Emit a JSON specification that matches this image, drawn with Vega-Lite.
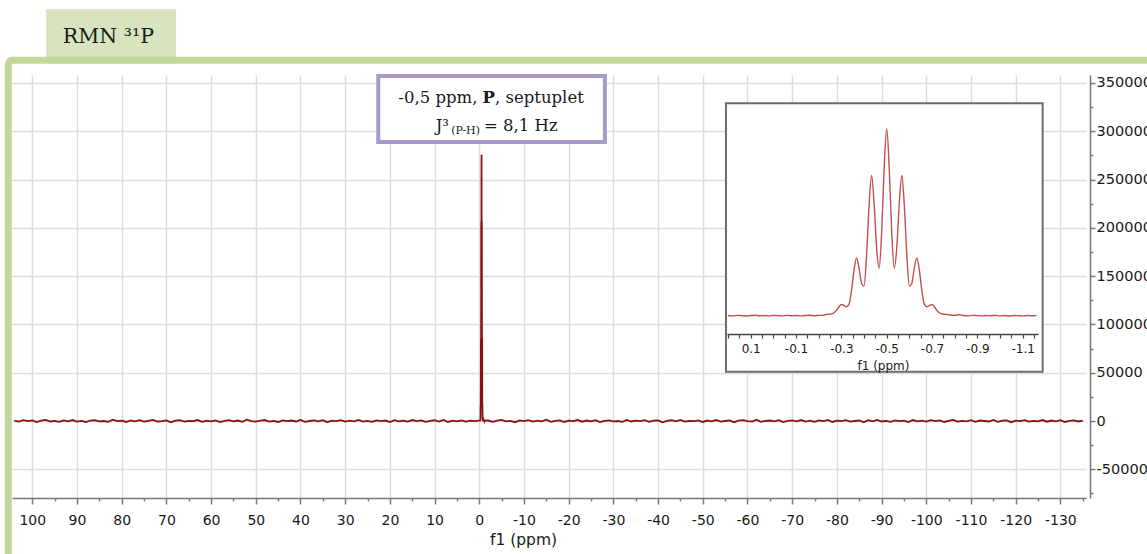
{
  "$schema": "https://vega.github.io/schema/vega-lite/v6.json",
  "width": 1074,
  "height": 423,
  "autosize": {"type": "none"},
  "padding": {"left": 12, "top": 75, "right": 61, "bottom": 56},
  "background": "white",
  "config": {"view": {"stroke": null}},
  "datasets": {
    "one": [{}],
    "spec": [
      {"ppm":104,"int":300},{"ppm":103,"int":-700},{"ppm":102,"int":900},{"ppm":101,"int":-200},{"ppm":100,"int":600},{"ppm":99,"int":-1100},{"ppm":98,"int":400},{"ppm":97,"int":1200},{"ppm":96,"int":-500},{"ppm":95,"int":100},{"ppm":94,"int":-900},{"ppm":93,"int":700},{"ppm":92,"int":-300},{"ppm":91,"int":1000},{"ppm":90,"int":-600},{"ppm":89,"int":200},{"ppm":88,"int":-1200},{"ppm":87,"int":500},{"ppm":86,"int":800},{"ppm":85,"int":-400},{"ppm":84,"int":0},{"ppm":83,"int":-800},{"ppm":82,"int":1300},{"ppm":81,"int":-100},{"ppm":80,"int":400},{"ppm":79,"int":-1000},{"ppm":78,"int":600},{"ppm":77,"int":-300},{"ppm":76,"int":900},{"ppm":75,"int":-700},{"ppm":74,"int":200},{"ppm":73,"int":1100},{"ppm":72,"int":-500},{"ppm":71,"int":-100},{"ppm":70,"int":700},{"ppm":69,"int":-1300},{"ppm":68,"int":300},{"ppm":67,"int":800},{"ppm":66,"int":-600},{"ppm":65,"int":100},{"ppm":64,"int":-200},{"ppm":63,"int":1000},{"ppm":62,"int":-900},{"ppm":61,"int":400},{"ppm":60,"int":-400},{"ppm":59,"int":600},{"ppm":58,"int":-1100},{"ppm":57,"int":200},{"ppm":56,"int":900},{"ppm":55,"int":-300},{"ppm":54,"int":500},{"ppm":53,"int":-800},{"ppm":52,"int":1400},{"ppm":51,"int":-200},{"ppm":50,"int":-600},{"ppm":49,"int":300},{"ppm":48,"int":1000},{"ppm":47,"int":-700},{"ppm":46,"int":100},{"ppm":45,"int":-1000},{"ppm":44,"int":700},{"ppm":43,"int":-200},{"ppm":42,"int":500},{"ppm":41,"int":-500},{"ppm":40,"int":1200},{"ppm":39,"int":-900},{"ppm":38,"int":0},{"ppm":37,"int":600},{"ppm":36,"int":-400},{"ppm":35,"int":900},{"ppm":34,"int":-1200},{"ppm":33,"int":300},{"ppm":32,"int":-100},{"ppm":31,"int":800},{"ppm":30,"int":-700},{"ppm":29,"int":400},{"ppm":28,"int":-300},{"ppm":27,"int":1100},{"ppm":26,"int":-600},{"ppm":25,"int":200},{"ppm":24,"int":-900},{"ppm":23,"int":700},{"ppm":22,"int":-100},{"ppm":21,"int":500},{"ppm":20,"int":-1100},{"ppm":19,"int":900},{"ppm":18,"int":-400},{"ppm":17,"int":300},{"ppm":16,"int":-700},{"ppm":15,"int":1000},{"ppm":14,"int":-200},{"ppm":13,"int":600},{"ppm":12,"int":-800},{"ppm":11,"int":100},{"ppm":10,"int":800},{"ppm":9,"int":-500},{"ppm":8,"int":1200},{"ppm":7,"int":-1000},{"ppm":6,"int":300},{"ppm":5,"int":-300},{"ppm":4,"int":700},{"ppm":3,"int":-600},{"ppm":2,"int":400},{"ppm":1,"int":-200},
      {"ppm":0.2,"int":300},{"ppm":0.18,"int":-200},{"ppm":0.16,"int":500},{"ppm":0.14,"int":100},{"ppm":0.12,"int":-400},{"ppm":0.1,"int":200},{"ppm":0.08,"int":600},{"ppm":0.06,"int":-100},{"ppm":0.04,"int":300},{"ppm":0.02,"int":-300},{"ppm":0,"int":400},{"ppm":-0.02,"int":100},{"ppm":-0.04,"int":-200},{"ppm":-0.06,"int":500},{"ppm":-0.08,"int":0},{"ppm":-0.1,"int":300},{"ppm":-0.12,"int":-300},{"ppm":-0.14,"int":200},{"ppm":-0.16,"int":600},{"ppm":-0.18,"int":-100},{"ppm":-0.2,"int":400},{"ppm":-0.22,"int":900},
      {"ppm":-0.2333,"int":1700},{"ppm":-0.2444,"int":2100},{"ppm":-0.2556,"int":2700},{"ppm":-0.2667,"int":4000},{"ppm":-0.2778,"int":7500},{"ppm":-0.2889,"int":12900},{"ppm":-0.3,"int":16500},{"ppm":-0.3111,"int":15100},{"ppm":-0.3222,"int":13200},{"ppm":-0.3333,"int":16300},{"ppm":-0.3444,"int":36000},{"ppm":-0.3556,"int":66200},{"ppm":-0.3667,"int":85300},{"ppm":-0.3778,"int":70900},{"ppm":-0.3889,"int":48000},{"ppm":-0.4,"int":43600},{"ppm":-0.4111,"int":88600},{"ppm":-0.4222,"int":162100},{"ppm":-0.4333,"int":206700},{"ppm":-0.4444,"int":166200},{"ppm":-0.4556,"int":99900},{"ppm":-0.4667,"int":70000},{"ppm":-0.4778,"int":123100},{"ppm":-0.4889,"int":218200},{"ppm":-0.5,"int":275700},{"ppm":-0.5111,"int":218200},{"ppm":-0.5222,"int":123100},{"ppm":-0.5333,"int":70000},{"ppm":-0.5444,"int":99900},{"ppm":-0.5556,"int":166200},{"ppm":-0.5667,"int":206700},{"ppm":-0.5778,"int":162100},{"ppm":-0.5889,"int":88600},{"ppm":-0.6,"int":43600},{"ppm":-0.6111,"int":48000},{"ppm":-0.6222,"int":70900},{"ppm":-0.6333,"int":85300},{"ppm":-0.6444,"int":66200},{"ppm":-0.6556,"int":36000},{"ppm":-0.6667,"int":16300},{"ppm":-0.6778,"int":13200},{"ppm":-0.6889,"int":15100},{"ppm":-0.7,"int":16500},{"ppm":-0.7111,"int":12900},{"ppm":-0.7222,"int":7500},{"ppm":-0.7333,"int":4000},{"ppm":-0.7444,"int":2700},{"ppm":-0.7556,"int":2100},{"ppm":-0.7667,"int":1700},
      {"ppm":-0.78,"int":1100},{"ppm":-0.8,"int":500},{"ppm":-0.82,"int":1500},{"ppm":-0.84,"int":300},{"ppm":-0.86,"int":-200},{"ppm":-0.88,"int":400},{"ppm":-0.9,"int":100},{"ppm":-0.92,"int":-300},{"ppm":-0.94,"int":300},{"ppm":-0.96,"int":0},{"ppm":-0.98,"int":500},{"ppm":-1,"int":-200},{"ppm":-1.02,"int":200},{"ppm":-1.04,"int":-400},{"ppm":-1.06,"int":300},{"ppm":-1.08,"int":100},{"ppm":-1.1,"int":-300},{"ppm":-1.12,"int":200},{"ppm":-1.14,"int":-100},{"ppm":-1.16,"int":300},
      {"ppm":-2,"int":500},{"ppm":-3,"int":-900},{"ppm":-4,"int":300},{"ppm":-5,"int":1100},{"ppm":-6,"int":-400},{"ppm":-7,"int":200},{"ppm":-8,"int":-1200},{"ppm":-9,"int":700},{"ppm":-10,"int":-100},{"ppm":-11,"int":900},{"ppm":-12,"int":-600},{"ppm":-13,"int":400},{"ppm":-14,"int":-300},{"ppm":-15,"int":1300},{"ppm":-16,"int":-800},{"ppm":-17,"int":100},{"ppm":-18,"int":600},{"ppm":-19,"int":-1000},{"ppm":-20,"int":300},{"ppm":-21,"int":-200},{"ppm":-22,"int":1000},{"ppm":-23,"int":-700},{"ppm":-24,"int":500},{"ppm":-25,"int":-400},{"ppm":-26,"int":800},{"ppm":-27,"int":-1100},{"ppm":-28,"int":200},{"ppm":-29,"int":700},{"ppm":-30,"int":-300},{"ppm":-31,"int":0},{"ppm":-32,"int":-900},{"ppm":-33,"int":1200},{"ppm":-34,"int":-500},{"ppm":-35,"int":400},{"ppm":-36,"int":-200},{"ppm":-37,"int":900},{"ppm":-38,"int":-800},{"ppm":-39,"int":300},{"ppm":-40,"int":600},{"ppm":-41,"int":-1300},{"ppm":-42,"int":100},{"ppm":-43,"int":800},{"ppm":-44,"int":-400},{"ppm":-45,"int":1100},{"ppm":-46,"int":-600},{"ppm":-47,"int":200},{"ppm":-48,"int":-100},{"ppm":-49,"int":700},{"ppm":-50,"int":-1000},{"ppm":-51,"int":500},{"ppm":-52,"int":-300},{"ppm":-53,"int":1000},{"ppm":-54,"int":-700},{"ppm":-55,"int":0},{"ppm":-56,"int":600},{"ppm":-57,"int":-1200},{"ppm":-58,"int":400},{"ppm":-59,"int":900},{"ppm":-60,"int":-200},{"ppm":-61,"int":-500},{"ppm":-62,"int":1300},{"ppm":-63,"int":-900},{"ppm":-64,"int":200},{"ppm":-65,"int":500},{"ppm":-66,"int":-400},{"ppm":-67,"int":800},{"ppm":-68,"int":-1100},{"ppm":-69,"int":100},{"ppm":-70,"int":600},{"ppm":-71,"int":-300},{"ppm":-72,"int":1000},{"ppm":-73,"int":-600},{"ppm":-74,"int":300},{"ppm":-75,"int":-800},{"ppm":-76,"int":700},{"ppm":-77,"int":-100},{"ppm":-78,"int":1200},{"ppm":-79,"int":-1000},{"ppm":-80,"int":400},{"ppm":-81,"int":-200},{"ppm":-82,"int":900},{"ppm":-83,"int":-700},{"ppm":-84,"int":0},{"ppm":-85,"int":500},{"ppm":-86,"int":-1300},{"ppm":-87,"int":800},{"ppm":-88,"int":-300},{"ppm":-89,"int":1100},{"ppm":-90,"int":-500},{"ppm":-91,"int":200},{"ppm":-92,"int":-900},{"ppm":-93,"int":700},{"ppm":-94,"int":-100},{"ppm":-95,"int":400},{"ppm":-96,"int":-1100},{"ppm":-97,"int":1000},{"ppm":-98,"int":-400},{"ppm":-99,"int":300},{"ppm":-100,"int":-700},{"ppm":-101,"int":900},{"ppm":-102,"int":-200},{"ppm":-103,"int":600},{"ppm":-104,"int":-1000},{"ppm":-105,"int":200},{"ppm":-106,"int":1200},{"ppm":-107,"int":-600},{"ppm":-108,"int":100},{"ppm":-109,"int":-300},{"ppm":-110,"int":800},{"ppm":-111,"int":-900},{"ppm":-112,"int":500},{"ppm":-113,"int":0},{"ppm":-114,"int":-500},{"ppm":-115,"int":1100},{"ppm":-116,"int":-800},{"ppm":-117,"int":300},{"ppm":-118,"int":700},{"ppm":-119,"int":-1200},{"ppm":-120,"int":400},{"ppm":-121,"int":-100},{"ppm":-122,"int":900},{"ppm":-123,"int":-600},{"ppm":-124,"int":200},{"ppm":-125,"int":-400},{"ppm":-126,"int":1000},{"ppm":-127,"int":-700},{"ppm":-128,"int":500},{"ppm":-129,"int":-300},{"ppm":-130,"int":800},{"ppm":-131,"int":-1000},{"ppm":-132,"int":100},{"ppm":-133,"int":600},{"ppm":-134,"int":-500},{"ppm":-135,"int":300}
    ]
  },
  "layer": [
    {
      "data": {"name": "one"},
      "mark": {"type": "rect", "fill": "#d7e4bd"},
      "encoding": {
        "x": {"datum": 96.94, "type": "quantitative", "scale": {"domain": [104.54, -135.73], "nice": false, "zero": false}, "axis": null},
        "x2": {"datum": 67.85},
        "y": {"datum": 426200, "type": "quantitative", "scale": {"domain": [-79700, 358200], "nice": false, "zero": false}, "axis": null},
        "y2": {"datum": 372000}
      }
    },
    {
      "data": {"name": "one"},
      "mark": {"type": "text", "text": "RMN ³¹P", "font": "DejaVu Serif", "fontSize": 20.5, "color": "#1a1a1a", "align": "center", "baseline": "alphabetic"},
      "encoding": {
        "x": {"datum": 82.98, "type": "quantitative", "scale": {"domain": [104.54, -135.73], "nice": false, "zero": false}, "axis": null},
        "y": {"datum": 391000, "type": "quantitative", "scale": {"domain": [-79700, 358200], "nice": false, "zero": false}, "axis": null}
      }
    },
    {
      "data": {"name": "one"},
      "mark": {"type": "rect", "filled": false, "stroke": "#c3d69b", "strokeWidth": 7, "cornerRadius": 4},
      "encoding": {
        "x": {"datum": 105.37, "type": "quantitative", "scale": {"domain": [104.54, -135.73], "nice": false, "zero": false}, "axis": null},
        "x2": {"datum": -160},
        "y": {"datum": 373400, "type": "quantitative", "scale": {"domain": [-79700, 358200], "nice": false, "zero": false}, "axis": null},
        "y2": {"datum": -200000}
      }
    },
    {
      "data": {"name": "one"},
      "mark": {"type": "rect", "fill": "white", "stroke": "#a899c8", "strokeWidth": 4},
      "encoding": {
        "x": {"datum": 22.6, "type": "quantitative", "scale": {"domain": [104.54, -135.73], "nice": false, "zero": false}, "axis": null},
        "x2": {"datum": -28.1},
        "y": {"datum": 357200, "type": "quantitative", "scale": {"domain": [-79700, 358200], "nice": false, "zero": false}, "axis": null},
        "y2": {"datum": 288800}
      }
    },
    {
      "data": {"name": "one"},
      "mark": {"type": "text", "text": "-0,5 ppm,", "font": "DejaVu Serif", "fontSize": 16.5, "color": "#1a1a1a", "align": "right", "baseline": "alphabetic", "dx": -11.4},
      "encoding": {
        "x": {"datum": -2.13, "type": "quantitative", "scale": {"domain": [104.54, -135.73], "nice": false, "zero": false}, "axis": null},
        "y": {"datum": 328900, "type": "quantitative", "scale": {"domain": [-79700, 358200], "nice": false, "zero": false}, "axis": null}
      }
    },
    {
      "data": {"name": "one"},
      "mark": {"type": "text", "text": "P", "font": "DejaVu Serif", "fontSize": 16.5, "fontWeight": "bold", "color": "#1a1a1a", "align": "center", "baseline": "alphabetic"},
      "encoding": {
        "x": {"datum": -2.13, "type": "quantitative", "scale": {"domain": [104.54, -135.73], "nice": false, "zero": false}, "axis": null},
        "y": {"datum": 328900, "type": "quantitative", "scale": {"domain": [-79700, 358200], "nice": false, "zero": false}, "axis": null}
      }
    },
    {
      "data": {"name": "one"},
      "mark": {"type": "text", "text": ", septuplet", "font": "DejaVu Serif", "fontSize": 16.5, "color": "#1a1a1a", "align": "left", "baseline": "alphabetic", "dx": 6.2},
      "encoding": {
        "x": {"datum": -2.13, "type": "quantitative", "scale": {"domain": [104.54, -135.73], "nice": false, "zero": false}, "axis": null},
        "y": {"datum": 328900, "type": "quantitative", "scale": {"domain": [-79700, 358200], "nice": false, "zero": false}, "axis": null}
      }
    },
    {
      "data": {"name": "one"},
      "mark": {"type": "text", "text": "J³", "font": "DejaVu Serif", "fontSize": 16.5, "color": "#1a1a1a", "align": "right", "baseline": "alphabetic", "dx": -32},
      "encoding": {
        "x": {"datum": -0.38, "type": "quantitative", "scale": {"domain": [104.54, -135.73], "nice": false, "zero": false}, "axis": null},
        "y": {"datum": 300200, "type": "quantitative", "scale": {"domain": [-79700, 358200], "nice": false, "zero": false}, "axis": null}
      }
    },
    {
      "data": {"name": "one"},
      "mark": {"type": "text", "text": "(P-H)", "font": "DejaVu Serif", "fontSize": 11, "color": "#1a1a1a", "align": "right", "baseline": "alphabetic", "dx": -1, "dy": 3},
      "encoding": {
        "x": {"datum": -0.38, "type": "quantitative", "scale": {"domain": [104.54, -135.73], "nice": false, "zero": false}, "axis": null},
        "y": {"datum": 300200, "type": "quantitative", "scale": {"domain": [-79700, 358200], "nice": false, "zero": false}, "axis": null}
      }
    },
    {
      "data": {"name": "one"},
      "mark": {"type": "text", "text": "= 8,1 Hz", "font": "DejaVu Serif", "fontSize": 16.5, "color": "#1a1a1a", "align": "left", "baseline": "alphabetic", "dx": 3},
      "encoding": {
        "x": {"datum": -0.38, "type": "quantitative", "scale": {"domain": [104.54, -135.73], "nice": false, "zero": false}, "axis": null},
        "y": {"datum": 300200, "type": "quantitative", "scale": {"domain": [-79700, 358200], "nice": false, "zero": false}, "axis": null}
      }
    },
    {
      "data": {"name": "one"},
      "mark": {"type": "point", "opacity": 0},
      "encoding": {
        "x": {
          "datum": 0, "type": "quantitative",
          "scale": {"domain": [104.54, -135.73], "nice": false, "zero": false},
          "axis": {
            "orient": "bottom",
            "values": [95,85,75,65,55,45,35,25,15,5,-5,-15,-25,-35,-45,-55,-65,-75,-85,-95,-105,-115,-125,-135],
            "labels": false, "grid": false, "domain": false,
            "tickSize": 3, "tickColor": "#7a7a7a", "tickWidth": 1.5, "title": null
          }
        },
        "y": {
          "datum": 0, "type": "quantitative",
          "scale": {"domain": [-79700, 358200], "nice": false, "zero": false},
          "axis": {
            "orient": "right", "offset": 4,
            "values": [-75000,-25000,25000,75000,125000,175000,225000,275000,325000],
            "labels": false, "grid": false, "domain": false,
            "tickSize": 3, "tickColor": "#7a7a7a", "tickWidth": 1.5, "title": null
          }
        }
      }
    },
    {
      "data": {"name": "spec"},
      "mark": {"type": "line", "color": "#8b1010", "strokeWidth": 1.8},
      "encoding": {
        "x": {
          "field": "ppm", "type": "quantitative",
          "scale": {"domain": [104.54, -135.73], "nice": false, "zero": false},
          "axis": {
            "orient": "bottom",
            "values": [100,90,80,70,60,50,40,30,20,10,0,-10,-20,-30,-40,-50,-60,-70,-80,-90,-100,-110,-120,-130],
            "labelExpr": "'' + datum.value",
            "tickSize": 6,
            "grid": true,
            "gridColor": "#dddddd", "gridWidth": 1.5,
            "domainColor": "#7a7a7a", "domainWidth": 1.5,
            "tickColor": "#7a7a7a", "tickWidth": 1.5,
            "labelFont": "DejaVu Sans", "labelFontSize": 14, "labelColor": "#1a1a1a",
            "labelPadding": 9, "labelFlush": false, "labelOverlap": false, "labelBound": false,
            "title": "f1 (ppm)", "titleFont": "DejaVu Sans", "titleFontSize": 15.5, "titleFontWeight": "normal", "titleColor": "#1a1a1a",
            "titleX": 511, "titleY": 46, "titleAlign": "center", "titleBaseline": "alphabetic"
          }
        },
        "y": {
          "field": "int", "type": "quantitative",
          "scale": {"domain": [-79700, 358200], "nice": false, "zero": false},
          "axis": {
            "orient": "right", "offset": 4,
            "values": [-50000,0,50000,100000,150000,200000,250000,300000,350000],
            "labelExpr": "'' + datum.value",
            "tickSize": 5,
            "grid": true,
            "gridColor": "#dddddd", "gridWidth": 1.5,
            "domainColor": "#7a7a7a", "domainWidth": 1.5,
            "tickColor": "#7a7a7a", "tickWidth": 1.5,
            "labelFont": "DejaVu Sans", "labelFontSize": 14.5, "labelColor": "#1a1a1a",
            "labelPadding": 1, "labelFlush": false, "labelOverlap": false, "labelBound": false,
            "labelAlign": "left", "labelBaseline": "middle",
            "title": null
          }
        }
      }
    },
    {
      "data": {"name": "one"},
      "mark": {"type": "rect", "fill": "white", "stroke": "#6d6d6d", "strokeWidth": 2},
      "encoding": {
        "x": {"datum": 0.209, "type": "quantitative", "scale": {"domain": [0.2045, -1.1675], "range": [715, 1026], "nice": false, "zero": false}, "axis": null},
        "x2": {"datum": -1.188},
        "y": {"datum": 313300, "type": "quantitative", "scale": {"domain": [-27000, 313700], "range": [259, 28], "nice": false, "zero": false}, "axis": null},
        "y2": {"datum": -82600}
      }
    },
    {
      "data": {"name": "spec"},
      "transform": [{"filter": "datum.ppm <= 0.21 && datum.ppm >= -1.17"}],
      "mark": {"type": "line", "color": "#c0504d", "strokeWidth": 1.4, "interpolate": "monotone"},
      "encoding": {
        "x": {
          "field": "ppm", "type": "quantitative",
          "scale": {"domain": [0.2045, -1.1675], "range": [715, 1026], "nice": false, "zero": false},
          "axis": {
            "orient": "bottom", "offset": -164, "zindex": 2,
            "values": [0.2,0.15,0.1,0.05,0,-0.05,-0.1,-0.15,-0.2,-0.25,-0.3,-0.35,-0.4,-0.45,-0.5,-0.55,-0.6,-0.65,-0.7,-0.75,-0.8,-0.85,-0.9,-0.95,-1,-1.05,-1.1,-1.15],
            "labelExpr": "abs(round(datum.value*100)) % 20 === 10 ? (datum.value < 0 ? '-' : '') + format(abs(datum.value), '.1f') : ''",
            "tickSize": 4,
            "grid": false,
            "domainColor": "#444444", "domainWidth": 1.5,
            "tickColor": "#444444", "tickWidth": 1.2,
            "labelFont": "DejaVu Sans", "labelFontSize": 12, "labelColor": "#1a1a1a",
            "labelPadding": 5, "labelFlush": false, "labelOverlap": false, "labelBound": false,
            "title": "f1 (ppm)", "titleFont": "DejaVu Sans", "titleFontSize": 12, "titleFontWeight": "normal", "titleColor": "#1a1a1a",
            "titleX": 871, "titleY": 35, "titleAlign": "center", "titleBaseline": "alphabetic"
          }
        },
        "y": {
          "field": "int", "type": "quantitative",
          "scale": {"domain": [-27000, 313700], "range": [259, 28], "nice": false, "zero": false},
          "axis": null
        }
      }
    }
  ],
  "resolve": {"scale": {"x": "independent", "y": "independent"}}
}
